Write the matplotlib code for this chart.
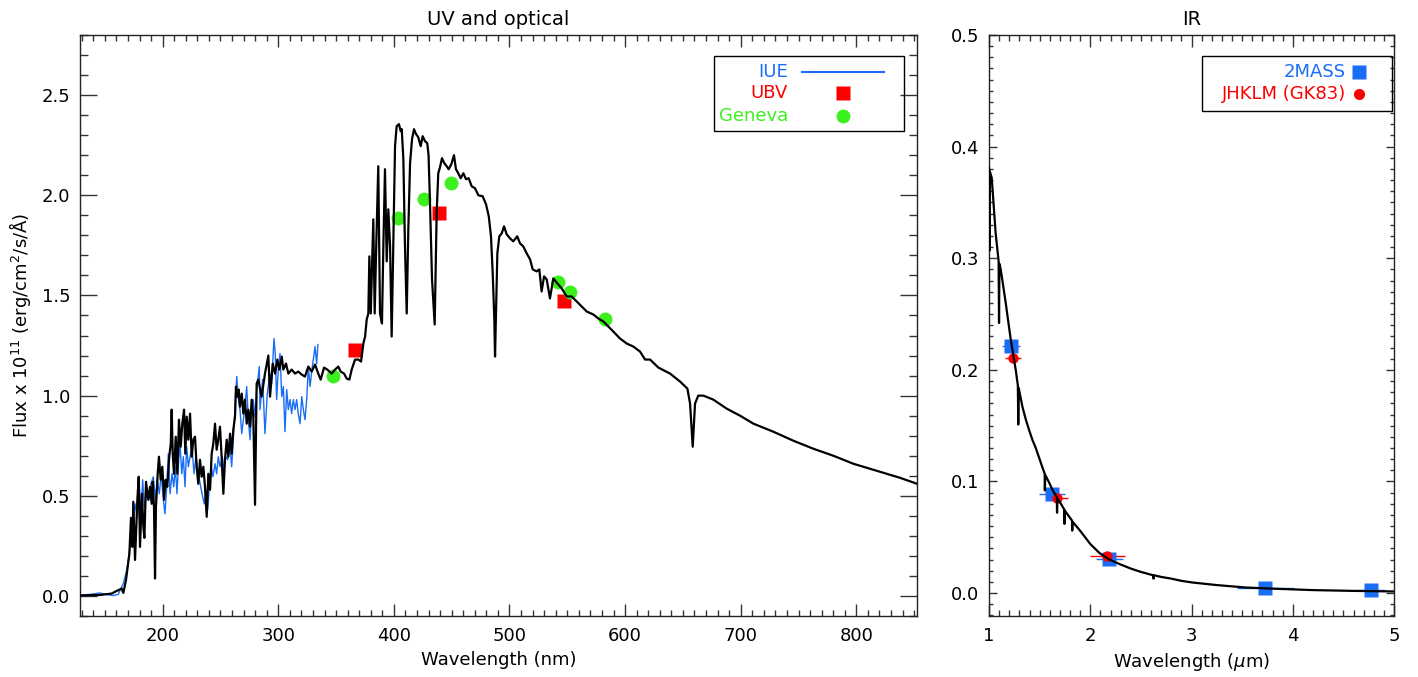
import matplotlib
matplotlib.use('Agg')
import matplotlib.pyplot as plt
from matplotlib.ticker import MultipleLocator, FormatStrFormatter
from matplotlib.patches import Rectangle

plt.rcParams['font.family'] = ['DejaVu Sans']
plt.rcParams['mathtext.fontset'] = 'dejavusans'

# ---------------- data: UV / optical ----------------
model_wave = [128.5, 145.8, 155.9, 160.2, 164.6, 166.0, 168.3, 171.2, 172.6, 173.8,
              174.6, 176.1, 178.1, 179.3, 180.4, 182.1, 183.3, 184.2, 185.6, 187.6,
              189.1, 190.5, 191.4, 192.5, 193.4, 194.2, 195.7, 196.8, 198.3, 199.7,
              201.2, 202.6, 204.0, 205.7, 207.0, 207.8, 208.7, 209.8, 211.3, 212.7,
              214.1, 215.6, 217.0, 218.5, 219.6, 220.8, 222.2, 223.7, 225.1, 226.5,
              228.0, 229.4, 230.8, 232.3, 233.7, 235.2, 236.6, 238.1, 239.5, 241.0,
              242.4, 243.8, 245.3, 246.7, 248.1, 249.6, 251.0, 252.5, 253.9, 255.4,
              256.8, 258.3, 259.7, 261.1, 262.6, 263.4, 264.6, 265.8, 266.9, 268.4,
              269.8, 271.2, 272.7, 274.1, 275.6, 277.0, 278.4, 279.9, 281.3, 282.7,
              285.6, 288.5, 291.4, 292.9, 295.2, 297.2, 299.2, 300.9, 303.0, 304.4,
              306.7, 308.7, 311.6, 314.5, 317.3, 320.3, 323.1, 326.0, 328.9, 331.8,
              334.6, 336.7, 339.6, 342.4, 346.2, 349.1, 351.9, 354.0, 356.9, 359.2,
              361.5, 363.5, 366.4, 369.3, 371.6, 373.6, 375.1, 376.5, 377.9, 378.8,
              380.0, 381.1, 382.2, 383.4, 384.8, 386.5, 388.0, 389.7, 390.9, 392.3,
              393.8, 395.2, 396.7, 398.1, 399.5, 401.0, 402.4, 404.4, 405.9, 406.8,
              408.2, 409.6, 411.1, 412.5, 414.0, 415.7, 417.4, 419.2, 421.1, 423.2,
              424.9, 426.9, 428.9, 430.0, 431.3, 433.0, 435.3, 437.0, 438.4, 439.9,
              441.6, 443.6, 445.7, 447.4, 449.7, 452.0, 453.7, 455.7, 457.8, 460.1,
              462.4, 464.7, 467.3, 470.2, 473.1, 476.8, 479.7, 482.1, 484.0, 485.5,
              486.9, 487.5, 488.3, 489.5, 491.2, 493.3, 495.3, 497.6, 500.5, 503.3,
              506.7, 509.1, 511.9, 514.9, 517.8, 520.1, 523.5, 525.8, 527.8, 529.9,
              532.2, 535.0, 537.9, 541.4, 545.2, 549.5, 553.8, 558.1, 562.5, 566.8,
              572.5, 576.8, 581.2, 585.5, 589.8, 595.6, 601.4, 607.1, 612.9, 617.3,
              621.6, 628.8, 638.9, 647.6, 653.9, 656.2, 658.5, 660.5, 663.3, 667.7,
              676.3, 687.9, 699.4, 711.0, 728.2, 745.5, 762.8, 780.1, 797.4, 814.8,
              837.7, 852.5]
model_flux = [0.003, 0.005, 0.012, 0.025, 0.037, 0.015, 0.08, 0.21, 0.39, 0.245,
              0.47, 0.18, 0.48, 0.595, 0.245, 0.51, 0.345, 0.29, 0.57, 0.48,
              0.545, 0.46, 0.57, 0.445, 0.087, 0.445, 0.61, 0.695, 0.58, 0.645,
              0.48, 0.58, 0.545, 0.695, 0.76, 0.93, 0.71, 0.61, 0.795, 0.61,
              0.88, 0.745, 0.86, 0.93, 0.71, 0.895, 0.78, 0.91, 0.695, 0.78,
              0.795, 0.645, 0.56, 0.68, 0.595, 0.645, 0.545, 0.395, 0.61, 0.53,
              0.71, 0.76, 0.86, 0.73, 0.78, 0.845, 0.695, 0.51, 0.68, 0.78,
              0.695, 0.81, 0.71, 0.83, 0.895, 1.045, 0.995, 1.03, 0.945, 1.01,
              0.91, 0.98, 0.86, 0.93, 0.845, 0.98, 0.895, 0.455, 1.06, 1.08,
              0.995, 1.11, 1.20, 0.995, 1.16, 1.11, 1.18, 1.13, 1.195, 1.13,
              1.16, 1.11, 1.13, 1.11, 1.12, 1.105, 1.095, 1.145, 1.12, 1.155,
              1.11, 1.08, 1.14, 1.13, 1.11, 1.13, 1.145, 1.12, 1.11, 1.085,
              1.08, 1.13, 1.18, 1.18, 1.17, 1.26, 1.295, 1.38, 1.41, 1.695,
              1.41, 1.645, 1.88, 1.41, 1.76, 2.145, 1.41, 1.36, 1.745, 2.13,
              1.67, 1.93, 1.745, 1.295, 1.745, 2.245, 2.345, 2.355, 2.32, 2.33,
              2.18, 1.745, 1.41, 1.83, 2.16, 2.28, 2.33, 2.305, 2.29, 2.245,
              2.295, 2.27, 2.26, 2.20, 1.95, 1.58, 1.355, 1.91, 2.11, 2.14,
              2.185, 2.16, 2.145, 2.13, 2.155, 2.20, 2.13, 2.11, 2.085, 2.11,
              2.08, 2.085, 2.045, 2.035, 2.00, 1.995, 1.955, 1.895, 1.795, 1.61,
              1.38, 1.195, 1.41, 1.71, 1.795, 1.81, 1.845, 1.805, 1.785, 1.77,
              1.795, 1.76, 1.745, 1.71, 1.68, 1.63, 1.62, 1.63, 1.52, 1.595,
              1.58, 1.485, 1.585, 1.56, 1.535, 1.495, 1.495, 1.47, 1.445, 1.42,
              1.405, 1.385, 1.37, 1.345, 1.32, 1.285, 1.26, 1.245, 1.22, 1.18,
              1.18, 1.14, 1.11, 1.07, 1.035, 0.96, 0.745, 0.96, 1.00, 1.00,
              0.98, 0.935, 0.90, 0.86, 0.82, 0.775, 0.735, 0.70, 0.66, 0.63,
              0.59, 0.56]

iue_wave = [128.5, 137.2, 145.8, 151.6, 157.3, 161.6, 166.0, 169.0, 171.8, 173.8,
            176.1, 178.1, 179.8, 181.3, 182.7, 184.2, 186.2, 188.2, 189.9, 191.9,
            194.0, 195.4, 197.1, 198.8, 200.6, 202.0, 203.5, 204.9, 206.4, 208.1,
            209.6, 211.0, 212.4, 213.9, 215.0, 216.5, 217.9, 219.3, 220.8, 222.2,
            223.7, 225.4, 227.1, 228.8, 230.8, 232.9, 234.6, 236.0, 237.5, 238.9,
            240.4, 242.1, 243.5, 245.3, 246.7, 248.1, 249.6, 251.6, 253.1, 254.5,
            256.3, 258.3, 259.7, 261.1, 262.9, 264.1, 265.5, 266.9, 268.4, 269.8,
            271.2, 272.7, 274.1, 275.6, 277.0, 278.4, 279.9, 281.3, 283.6, 284.2,
            286.5, 288.5, 290.5, 292.8, 294.3, 296.3, 297.4, 298.6, 300.0, 301.5,
            303.0, 304.4, 305.8, 307.3, 308.7, 310.2, 311.6, 313.0, 314.5, 315.9,
            317.3, 318.8, 320.3, 321.7, 323.1, 324.6, 326.0, 327.5, 328.9, 330.3,
            331.8, 333.2, 334.3]
iue_flux = [0.003, 0.008, 0.015, 0.007, 0.002, 0.008, 0.063, 0.13, 0.245, 0.33,
            0.46, 0.395, 0.545, 0.41, 0.58, 0.445, 0.51, 0.48, 0.56, 0.595,
            0.48, 0.58, 0.51, 0.61, 0.48, 0.41, 0.545, 0.71, 0.51, 0.61,
            0.545, 0.645, 0.51, 0.68, 0.76, 0.61, 0.695, 0.545, 0.745, 0.645,
            0.695, 0.745, 0.61, 0.695, 0.61, 0.545, 0.495, 0.46, 0.53, 0.43,
            0.545, 0.645, 0.595, 0.66, 0.61, 0.695, 0.645, 0.695, 0.63, 0.695,
            0.68, 0.745, 0.645, 0.78, 0.98, 1.095, 0.98, 0.93, 0.81, 0.88,
            0.945, 1.045, 0.88, 0.78, 0.93, 0.98, 0.895, 1.03, 1.145, 0.93,
            1.08, 0.81, 1.01, 1.11, 1.06, 1.285, 1.21, 0.98, 1.13, 1.21,
            0.995, 1.045, 0.82, 1.03, 0.93, 0.98, 0.91, 0.98, 0.93, 0.98,
            0.91, 0.86, 0.995, 0.93, 0.88, 0.98, 1.145, 1.045, 1.12, 1.18,
            1.245, 1.16, 1.255]

ubv_wave = [366.8, 439.0, 547.2]
ubv_flux = [1.23, 1.91, 1.47]

gen_wave = [347.5, 403.3, 425.7, 449.4, 542.1, 552.3, 583.0]
gen_flux = [1.10, 1.885, 1.98, 2.06, 1.565, 1.515, 1.38]

# ---------------- data: IR ----------------
ir_wave = [1.000, 1.006, 1.008, 1.027, 1.066, 1.092, 1.095, 1.099, 1.103, 1.116,
           1.165, 1.215, 1.264, 1.285, 1.289, 1.293, 1.33, 1.365, 1.40, 1.43,
           1.462, 1.50, 1.53, 1.55, 1.552, 1.555, 1.594, 1.63, 1.67, 1.672,
           1.675, 1.71, 1.743, 1.745, 1.748, 1.78, 1.82, 1.822, 1.825, 1.89,
           1.95, 2.00, 2.09, 2.19, 2.29, 2.40, 2.50, 2.58, 2.62, 2.625,
           2.63, 2.70, 2.80, 2.90, 3.01, 3.25, 3.54, 3.80, 4.20, 4.60, 5.00]
ir_flux = [0.381, 0.307, 0.378, 0.372, 0.322, 0.300, 0.297, 0.242, 0.295, 0.290,
           0.260, 0.227, 0.200, 0.186, 0.151, 0.184, 0.167, 0.155, 0.145, 0.137,
           0.130, 0.120, 0.112, 0.107, 0.092, 0.106, 0.099, 0.092, 0.086, 0.072,
           0.085, 0.080, 0.075, 0.062, 0.074, 0.070, 0.065, 0.056, 0.064, 0.057,
           0.050, 0.044, 0.036, 0.030, 0.026, 0.022, 0.019, 0.017, 0.016, 0.013,
           0.016, 0.0145, 0.013, 0.011, 0.0095, 0.0072, 0.0050, 0.0040, 0.0027, 0.0020, 0.0015]

mass_wave = [1.215, 1.624, 2.19, 3.73, 4.77]
mass_flux = [0.221, 0.089, 0.031, 0.0045, 0.0025]
mass_xerr = [0.09, 0.13, 0.13, 0.28, 0.14]

gk_wave = [1.24, 1.67, 2.17]
gk_flux = [0.211, 0.085, 0.033]
gk_xerr = [0.08, 0.11, 0.17]

BLUE = '#1a6ef5'
RED = '#ff0000'
GREEN = '#3cf01e'
FS = 13
TFS = 14

W, H = 1418, 677
fig = plt.figure(figsize=(W / 100, H / 100), dpi=100)
ax1 = fig.add_axes([80 / W, 1 - 616 / H, 837 / W, 581 / H])
ax2 = fig.add_axes([989 / W, 1 - 616 / H, 405 / W, 581 / H])

# ---- left panel ----
ax1.plot(ubv_wave, ubv_flux, 's', color=RED, ms=9.5, mec='none', zorder=2)
ax1.plot(gen_wave, gen_flux, 'o', color=GREEN, ms=10, mec='none', zorder=2)
ax1.plot(iue_wave, iue_flux, '-', color=BLUE, lw=1.0, zorder=3)
ax1.plot(model_wave, model_flux, '-', color='black', lw=1.6, zorder=4)
ax1.set_xlim(128.5, 852.5)
ax1.set_ylim(-0.1, 2.8)
ax1.xaxis.set_major_locator(MultipleLocator(100))
ax1.xaxis.set_minor_locator(MultipleLocator(10))
ax1.yaxis.set_major_locator(MultipleLocator(0.5))
ax1.yaxis.set_minor_locator(MultipleLocator(0.1))
ax1.yaxis.set_major_formatter(FormatStrFormatter('%.1f'))
ax1.tick_params(which='both', direction='in', top=True, right=True, labelsize=FS, width=1.0, color='#333333')
ax1.tick_params(axis='x', which='major', length=8.4, pad=8)
ax1.tick_params(axis='x', which='minor', length=4.2)
ax1.tick_params(axis='y', which='major', length=12.2, pad=7)
ax1.tick_params(axis='y', which='minor', length=6.1)
ax1.set_xlabel('Wavelength (nm)', fontsize=FS, labelpad=4)
ax1.set_ylabel('Flux x 10$^{11}$ (erg/cm$^2$/s/Å)', fontsize=FS, labelpad=6)
ax1.set_title('UV and optical', fontsize=TFS, pad=7)

# manual legend left
def fx1(px):
    return (px - 80) / 837
def fy(py):
    return (616 - py) / 581
ax1.add_patch(Rectangle((fx1(714), fy(131)), fx1(904) - fx1(714), fy(56) - fy(131),
                        transform=ax1.transAxes, fill=False, ec='black', lw=1.0, zorder=6))
rows = [(72, 'IUE', BLUE), (93, 'UBV', RED), (116, 'Geneva', GREEN)]
for py, lab, col in rows:
    ax1.text(fx1(788), fy(py), lab, color=col, fontsize=FS, ha='right', va='center',
             transform=ax1.transAxes, zorder=7)
ax1.plot([fx1(802), fx1(884)], [fy(72), fy(72)], color=BLUE, lw=1.5, transform=ax1.transAxes, zorder=7)
ax1.plot([fx1(843)], [fy(93)], 's', color=RED, ms=9.5, mec='none', transform=ax1.transAxes, zorder=7)
ax1.plot([fx1(843)], [fy(116)], 'o', color=GREEN, ms=10, mec='none', transform=ax1.transAxes, zorder=7)

# ---- right panel ----
ax2.errorbar(mass_wave, mass_flux, xerr=mass_xerr, fmt='s', color=BLUE, ms=9.5, mec='none',
             elinewidth=1.0, capsize=0, zorder=2)
ax2.errorbar(gk_wave, gk_flux, xerr=gk_xerr, fmt='o', color=RED, ms=7.5, mec='none',
             elinewidth=1.0, capsize=0, zorder=2)
ax2.plot(ir_wave, ir_flux, '-', color='black', lw=1.6, zorder=4)
ax2.set_xlim(1, 5)
ax2.set_ylim(-0.0205, 0.5)
ax2.xaxis.set_major_locator(MultipleLocator(1))
ax2.xaxis.set_minor_locator(MultipleLocator(0.1))
ax2.yaxis.set_major_locator(MultipleLocator(0.1))
ax2.yaxis.set_minor_locator(MultipleLocator(0.01))
ax2.xaxis.set_major_formatter(FormatStrFormatter('%d'))
ax2.yaxis.set_major_formatter(FormatStrFormatter('%.1f'))
ax2.tick_params(which='both', direction='in', top=True, right=True, labelsize=FS, width=1.0, color='#333333')
ax2.tick_params(axis='x', which='major', length=8.4, pad=8)
ax2.tick_params(axis='x', which='minor', length=4.2)
ax2.tick_params(axis='y', which='major', length=5.8, pad=7)
ax2.tick_params(axis='y', which='minor', length=2.9)
ax2.set_xlabel('Wavelength ($\\mu$m)', fontsize=FS, labelpad=4)
ax2.set_title('IR', fontsize=TFS, pad=7)

def fx2(px):
    return (px - 989) / 405
ax2.add_patch(Rectangle((fx2(1202), fy(111)), fx2(1392) - fx2(1202), fy(56) - fy(111),
                        transform=ax2.transAxes, fill=False, ec='black', lw=1.0, zorder=6))
ax2.text(fx2(1346), fy(72), '2MASS', color=BLUE, fontsize=FS, ha='right', va='center',
         transform=ax2.transAxes, zorder=7)
ax2.text(fx2(1346), fy(94), 'JHKLM (GK83)', color=RED, fontsize=FS, ha='right', va='center',
         transform=ax2.transAxes, zorder=7)
ax2.plot([fx2(1359)], [fy(72)], 's', color=BLUE, ms=9.5, mec='none', transform=ax2.transAxes, zorder=7)
ax2.plot([fx2(1359)], [fy(94)], 'o', color=RED, ms=8, mec='none', transform=ax2.transAxes, zorder=7)

for ax in (ax1, ax2):
    for s in ax.spines.values():
        s.set_linewidth(1.0)
        s.set_color('#222222')

fig.savefig('out.png', dpi=100)
